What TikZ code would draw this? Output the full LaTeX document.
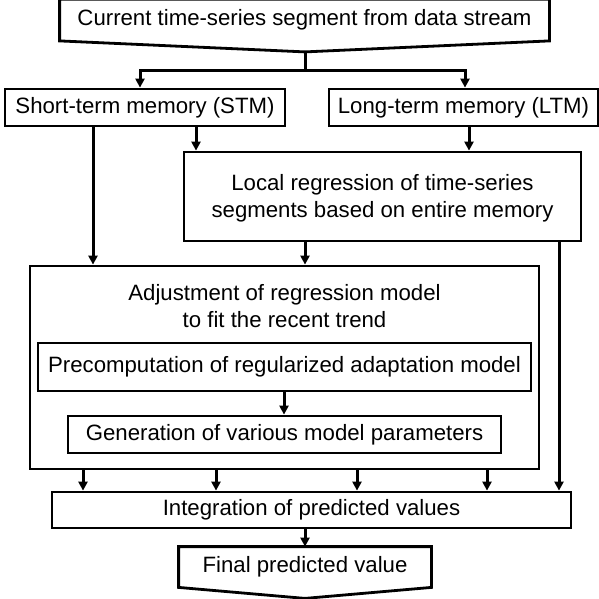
\documentclass[tikz,border=0pt]{standalone}
\usepackage{fontspec}
\setmainfont{Liberation Sans}
\usetikzlibrary{arrows.meta,calc}
\begin{document}
\begin{tikzpicture}[x=1pt,y=-1pt,
  line width=2.8pt,
  box/.style={draw, rectangle, inner sep=0pt, line join=miter},
  ghost/.style={rectangle, inner sep=0pt},
  txt/.style={inner sep=0pt, align=center, font=\fontsize{22.2}{27}\selectfont},
  arr/.style={-{Triangle[length=9pt,width=9pt]}, line width=3pt}]
\useasboundingbox (0,0) rectangle (599,598);
% top pentagon
\node[ghost, minimum width=487pt, minimum height=39pt] (top) at (304.5,20) {};
\draw[line join=miter] (top.north west) -- (top.north east) -- (top.south east)
  -- ($(top.south)+(0.5,11)$) coordinate (toptip) -- (top.south west) -- cycle;
\node[txt] (toptxt) at (top.center) {Current time-series segment from data stream};
% memories
\node[box, minimum width=280pt, minimum height=37pt] (stm) at (145,107.5) {};
\node[txt] (stmtxt) at (stm.center) {Short-term memory (STM)};
\node[box, minimum width=269pt, minimum height=37pt] (ltm) at (463.5,107.5) {};
\node[txt] (ltmtxt) at (ltm.center) {Long-term memory (LTM)};
% local regression
\node[box, minimum width=397pt, minimum height=89pt] (loc) at (382.5,196.5) {};
\node[txt] (loctxt) at (382.5,198.5) {Local regression of time-series\\segments based on entire memory};
% adjustment
\node[box, minimum width=509pt, minimum height=203pt] (adj) at (284.5,367.5) {};
\node[txt] (adjtxt) at (284.5,306.5) {Adjustment of regression model\\to fit the recent trend};
\node[box, minimum width=493pt, minimum height=48pt] (pre) at (284.5,367) {};
\node[txt] (pretxt) at (pre.center) {Precomputation of regularized adaptation model};
\node[box, minimum width=433pt, minimum height=37pt] (gen) at (284.5,434.5) {};
\node[txt] (gentxt) at (gen.center) {Generation of various model parameters};
% integration
\node[box, minimum width=519pt, minimum height=36pt] (int) at (311.5,510) {};
\node[txt] (inttxt) at (int.center) {Integration of predicted values};
% final pentagon
\node[ghost, minimum width=250pt, minimum height=38pt] (fin) at (305,567) {};
\draw[line join=miter] (fin.north west) -- (fin.north east) -- (fin.south east)
  -- ($(fin.south)+(0,11)$) -- (fin.south west) -- cycle;
\node[txt] (fintxt) at (fin.center) {Final predicted value};
% column coordinates
\coordinate (c83) at (83,0);
\coordinate (c93) at (93,0);
\coordinate (c140) at (140,0);
\coordinate (c196) at (196,0);
\coordinate (c216) at (216,0);
\coordinate (c284) at (284,0);
\coordinate (c305) at (305,0);
\coordinate (c357) at (357,0);
\coordinate (c465) at (465,0);
\coordinate (c469) at (469,0);
\coordinate (c487) at (487,0);
\coordinate (c559) at (559,0);
\coordinate (split) at (305,70);
% connectors
\draw[line width=3pt] (toptip) -- (split);
\draw[arr] (split) -| (stm.north -| c140);
\draw[arr] (split) -| (ltm.north -| c465);
\draw[arr] (stm.south -| c93) -- (adj.north -| c93);
\draw[arr] (stm.south -| c196) -- (loc.north -| c196);
\draw[arr] (ltm.south -| c469) -- (loc.north -| c469);
\draw[arr] (loc.south -| c305) -- (adj.north -| c305);
\draw[arr] (loc.south -| c559) -- (int.north -| c559);
\draw[arr] (pre.south -| c284) -- (gen.north -| c284);
\foreach \c in {c83,c216,c357,c487}
  \draw[arr] (adj.south -| \c) -- (int.north -| \c);
\draw[arr] (int.south -| c305) -- (fin.north -| c305);
\end{tikzpicture}
\end{document}
